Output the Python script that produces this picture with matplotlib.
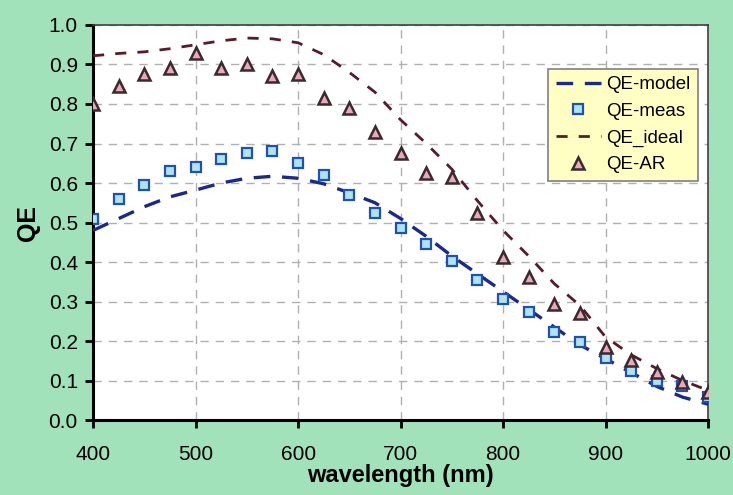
import matplotlib
matplotlib.use("Agg")
import matplotlib.pyplot as plt

plt.rcParams['font.family'] = ['Liberation Sans', 'DejaVu Sans']

wavelength = [400, 425, 450, 475, 500, 525, 550, 575, 600, 625, 650, 675, 700,
              725, 750, 775, 800, 825, 850, 875, 900, 925, 950, 975, 1000]

qe_model = [0.48, 0.51, 0.54, 0.565, 0.582, 0.60, 0.612, 0.617, 0.612, 0.598, 0.575, 0.55, 0.51,
            0.465, 0.415, 0.37, 0.325, 0.28, 0.235, 0.19, 0.155, 0.12, 0.085, 0.058, 0.04]
qe_meas = [0.51, 0.56, 0.595, 0.63, 0.64, 0.66, 0.675, 0.68, 0.65, 0.62, 0.57, 0.525, 0.486,
           0.445, 0.403, 0.354, 0.306, 0.273, 0.223, 0.198, 0.157, 0.125, 0.10, 0.085, 0.058]
qe_ideal = [0.922, 0.928, 0.932, 0.94, 0.95, 0.96, 0.967, 0.965, 0.955, 0.925, 0.88, 0.83, 0.76,
            0.70, 0.635, 0.555, 0.48, 0.415, 0.345, 0.29, 0.21, 0.165, 0.13, 0.10, 0.075]
qe_ar = [0.80, 0.845, 0.875, 0.89, 0.93, 0.89, 0.90, 0.87, 0.875, 0.815, 0.79, 0.73, 0.675,
         0.625, 0.615, 0.524, 0.413, 0.362, 0.294, 0.271, 0.185, 0.152, 0.122, 0.097, 0.071]

green = "#a2e2ba"

fig = plt.figure(figsize=(7.33, 4.95), dpi=100, facecolor=green)
ax = fig.add_axes([0.127, 0.1515, 0.839, 0.798])
ax.set_facecolor("white")

ax.plot(wavelength, qe_model, color="#1a2a8c", lw=2.4, dashes=(5, 3.5), label="QE-model", zorder=3)
ax.plot(wavelength, qe_meas, ls="none", marker="s", ms=7, mfc="#aee4f2", mec="#2050b0", mew=1.6,
        label="QE-meas", zorder=4)
ax.plot(wavelength, qe_ideal, color="#5a1a2a", lw=2.0, dashes=(4, 4), label="QE_ideal", zorder=3)
ax.plot(wavelength, qe_ar, ls="none", marker="^", ms=8, mfc="#eca8b8", mec="#3a2a30", mew=1.8,
        label="QE-AR", zorder=4)

ax.set_xlim(400, 1000)
ax.set_ylim(0, 1.0)
ax.set_xticks(range(400, 1001, 100))
ax.set_yticks([i / 10 for i in range(11)])
ax.set_yticklabels([f"{i / 10:.1f}" for i in range(11)])
ax.grid(True, color="#b0b0b0", ls=(0, (6, 5)), lw=1.0)
ax.set_axisbelow(True)

for s in ["left", "bottom"]:
    ax.spines[s].set_linewidth(2.2)
    ax.spines[s].set_color("black")
for s in ["top", "right"]:
    ax.spines[s].set_linewidth(1.2)
    ax.spines[s].set_color("#404040")

ax.tick_params(direction="out", length=6, width=2, labelsize=15)
ax.tick_params(axis="x", pad=12)
ax.tick_params(axis="y", pad=5)
ax.set_xlabel("wavelength (nm)", fontsize=17, fontweight="bold", labelpad=0)
ax.set_ylabel("QE", fontsize=18, fontweight="bold", labelpad=6)

leg = ax.legend(loc="upper right", bbox_to_anchor=(0.984, 0.889), borderaxespad=0, fontsize=13.5,
                frameon=True, fancybox=False, facecolor="#ffffc4", edgecolor="#808080", framealpha=1,
                handlelength=2.4, handletextpad=0.3, borderpad=0.4, labelspacing=0.5)
leg.get_frame().set_linewidth(1.2)

fig.savefig("out.png", dpi=100, facecolor=green)
